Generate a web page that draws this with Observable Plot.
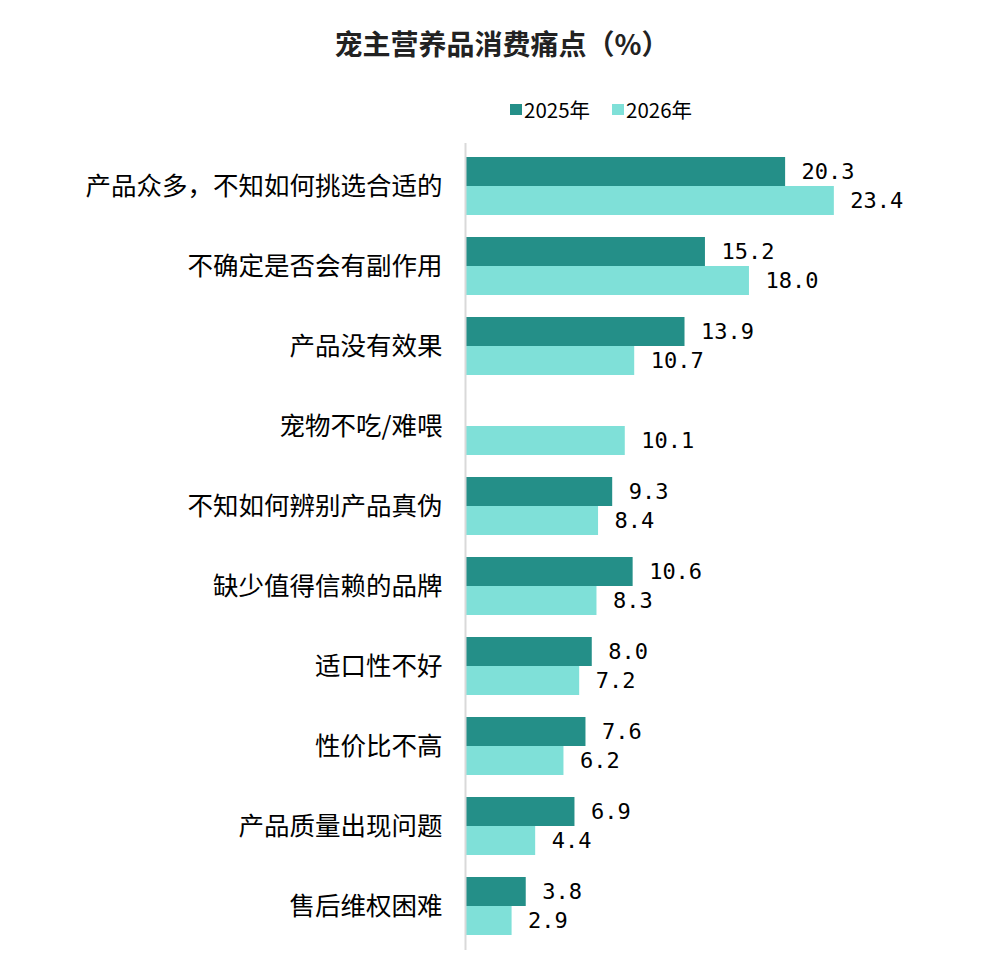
<!DOCTYPE html>
<html><head><meta charset="utf-8">
<script src="https://cdn.jsdelivr.net/npm/d3@7"></script>
<script src="https://cdn.jsdelivr.net/npm/@observablehq/plot@0.6"></script>
<style>
body{margin:0;background:#fff;font-family:"Noto Sans CJK SC",sans-serif;}
#title{padding-top:23px;height:40px;line-height:40px;text-align:center;font-size:28px;font-weight:bold;color:#222;}
#legend{margin-top:34px;height:24px;line-height:24px;font-size:20.5px;color:#000;position:relative;}
.sw{position:absolute;top:7px;width:12px;height:11px;}
.lt{position:absolute;top:0;}
</style></head>
<body>
<div id="title">宠主营养品消费痛点（%）</div>
<div id="legend"></div>
<div id="chart"></div>
<script>
const categories = ["产品众多，不知如何挑选合适的","不确定是否会有副作用","产品没有效果","宠物不吃/难喂","不知如何辨别产品真伪","缺少值得信赖的品牌","适口性不好","性价比不高","产品质量出现问题","售后维权困难"];
const values2025 = [20.3,15.2,13.9,null,9.3,10.6,8.0,7.6,6.9,3.8];
const values2026 = [23.4,18.0,10.7,10.1,8.4,8.3,7.2,6.2,4.4,2.9];
const seriesNames = ["2025年","2026年"];
const colors = ["#248F88","#7FE0D8"];

const legend = document.getElementById("legend");
const lx = [510, 612];
seriesNames.forEach((s,i)=>{
  const sw = document.createElement("div"); sw.className="sw"; sw.style.left=lx[i]+"px"; sw.style.background=colors[i]; legend.appendChild(sw);
  const t = document.createElement("div"); t.className="lt"; t.style.left=(lx[i]+14)+"px"; t.textContent=s; legend.appendChild(t);
});

const d25 = categories.map((c,i)=>({cat:c, value:values2025[i]})).filter(d=>d.value!=null);
const d26 = categories.map((c,i)=>({cat:c, value:values2026[i]})).filter(d=>d.value!=null);
const ppu = 15.72;
const x0 = 466;
const plot = Plot.plot({
  width:1004, height:853,
  marginTop:22, marginBottom:24, marginLeft:x0, marginRight:0,
  style:{fontFamily:"Noto Sans CJK SC", background:"#fff", color:"#000"},
  x:{domain:[0,30], range:[x0, x0+30*ppu], axis:null},
  y:{domain:categories, range:[33,817], paddingInner:0.28, paddingOuter:0, axis:null},
  marks:[
    Plot.barX(d25,{y:"cat", x:"value", fill:colors[0], insetBottom:29, insetTop:0}),
    Plot.barX(d26,{y:"cat", x:"value", fill:colors[1], insetTop:29, insetBottom:0}),
    Plot.ruleX([0],{stroke:"#d9d9d9", strokeWidth:2, dx:-1}),
    Plot.text(d25,{y:"cat", x:"value", text:d=>d.value.toFixed(1), dx:16, dy:-14.5, textAnchor:"start", fontSize:22, fontFamily:"DejaVu Sans Mono", fill:"#000"}),
    Plot.text(d26,{y:"cat", x:"value", text:d=>d.value.toFixed(1), dx:16, dy:14.5, textAnchor:"start", fontSize:22, fontFamily:"DejaVu Sans Mono", fill:"#000"}),
    Plot.axisY({tickSize:0, tickPadding:24, fontSize:25.5, label:null, fill:"#000"})
  ]
});
document.getElementById("chart").appendChild(plot);
</script>
</body></html>
